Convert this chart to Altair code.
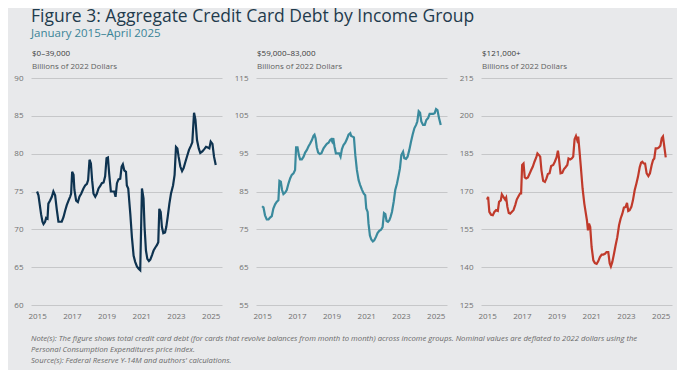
import altair as alt
import pandas as pd

# ---------------- data ----------------
low_t = [2015.00, 2015.08, 2015.17, 2015.23, 2015.31, 2015.37, 2015.46, 2015.52, 2015.60, 2015.65,
         2015.75, 2015.85, 2015.94, 2016.04, 2016.13, 2016.23, 2016.33, 2016.42, 2016.52, 2016.62,
         2016.71, 2016.81, 2016.90, 2016.96, 2017.02, 2017.10, 2017.15, 2017.25, 2017.35, 2017.44,
         2017.54, 2017.67, 2017.77, 2017.87, 2017.94, 2018.02, 2018.10, 2018.17, 2018.25, 2018.35,
         2018.44, 2018.54, 2018.63, 2018.73, 2018.83, 2018.92, 2019.00, 2019.08, 2019.15, 2019.25,
         2019.35, 2019.44, 2019.52, 2019.60, 2019.69, 2019.79, 2019.87, 2019.94, 2020.02, 2020.12,
         2020.17, 2020.25, 2020.37, 2020.46, 2020.56, 2020.65, 2020.75, 2020.85, 2020.94, 2021.04,
         2021.13, 2021.19, 2021.27, 2021.35, 2021.44, 2021.52, 2021.62, 2021.71, 2021.81, 2021.90,
         2021.98, 2022.04, 2022.12, 2022.19, 2022.27, 2022.37, 2022.44, 2022.52, 2022.62, 2022.71,
         2022.83, 2022.92, 2023.00, 2023.08, 2023.15, 2023.25, 2023.35, 2023.44, 2023.54, 2023.63,
         2023.75, 2023.85, 2023.94, 2024.04, 2024.12, 2024.21, 2024.31, 2024.40, 2024.52, 2024.63,
         2024.73, 2024.83, 2024.92, 2025.00, 2025.10, 2025.19, 2025.29]
low_v = [75.0, 74.5, 73.0, 72.0, 71.0, 70.7, 71.0, 71.5, 71.4, 73.4,
         73.8, 74.3, 75.0, 74.5, 72.7, 71.0, 71.0, 71.0, 71.6, 72.5,
         73.2, 73.8, 74.3, 74.7, 77.6, 77.2, 75.2, 73.8, 73.6, 74.3,
         74.7, 75.4, 75.8, 76.0, 76.5, 79.2, 78.7, 76.5, 74.7, 74.3,
         74.7, 75.4, 75.7, 76.1, 76.2, 77.0, 79.4, 79.5, 77.4, 75.0,
         75.0, 75.0, 74.3, 76.1, 76.6, 76.7, 78.3, 78.6, 77.8, 77.6,
         75.8, 75.4, 72.0, 69.0, 66.5, 65.7, 65.1, 64.8, 64.6, 75.4,
         74.1, 70.3, 67.2, 66.1, 65.8, 66.0, 66.6, 67.2, 67.6, 67.9,
         68.3, 72.7, 72.3, 70.3, 69.5, 69.6, 70.3, 71.6, 73.4, 74.7,
         75.8, 77.2, 80.9, 80.7, 79.6, 78.3, 77.7, 78.1, 78.9, 79.6,
         80.5, 81.0, 81.5, 85.4, 84.5, 81.8, 80.7, 80.1, 80.3, 80.6,
         80.9, 80.8, 80.7, 81.6, 81.3, 79.6, 78.5]

mid_t = [2015.00, 2015.08, 2015.17, 2015.27, 2015.37, 2015.46, 2015.56, 2015.65, 2015.75, 2015.85,
         2015.94, 2016.00, 2016.08, 2016.15, 2016.23, 2016.33, 2016.42, 2016.52, 2016.62, 2016.71,
         2016.81, 2016.90, 2016.96, 2017.04, 2017.12, 2017.19, 2017.29, 2017.39, 2017.48, 2017.58,
         2017.67, 2017.77, 2017.87, 2017.96, 2018.02, 2018.08, 2018.15, 2018.23, 2018.33, 2018.42,
         2018.54, 2018.63, 2018.73, 2018.83, 2018.92, 2018.98, 2019.04, 2019.10, 2019.17, 2019.25,
         2019.35, 2019.44, 2019.52, 2019.60, 2019.69, 2019.79, 2019.88, 2019.98, 2020.08, 2020.13,
         2020.21, 2020.29, 2020.37, 2020.46, 2020.56, 2020.65, 2020.75, 2020.85, 2020.94, 2021.00,
         2021.08, 2021.13, 2021.21, 2021.29, 2021.38, 2021.46, 2021.56, 2021.65, 2021.75, 2021.85,
         2021.94, 2022.02, 2022.10, 2022.17, 2022.25, 2022.33, 2022.40, 2022.48, 2022.58, 2022.67,
         2022.77, 2022.87, 2022.94, 2023.02, 2023.12, 2023.19, 2023.29, 2023.38, 2023.48, 2023.58,
         2023.67, 2023.77, 2023.87, 2023.94, 2024.02, 2024.10, 2024.17, 2024.27, 2024.37, 2024.46,
         2024.56, 2024.65, 2024.75, 2024.85, 2024.94, 2025.02, 2025.10, 2025.19, 2025.29]
mid_v = [81.1, 80.8, 78.7, 77.6, 77.6, 78.1, 78.5, 80.5, 81.6, 82.3,
         82.7, 87.8, 87.6, 85.4, 84.3, 84.7, 85.4, 87.1, 88.5, 89.4,
         89.8, 90.7, 96.7, 96.7, 94.6, 93.5, 93.5, 94.2, 95.3, 96.0,
         96.9, 97.7, 98.6, 99.7, 100.0, 99.1, 96.7, 95.3, 94.9, 95.1,
         96.4, 97.0, 97.6, 97.9, 98.6, 98.8, 98.2, 99.1, 96.9, 95.1,
         95.1, 95.1, 94.2, 96.2, 97.3, 97.9, 98.8, 100.0, 100.4, 99.7,
         99.5, 99.3, 94.6, 90.7, 88.0, 86.7, 85.5, 84.5, 84.0, 80.5,
         79.6, 76.5, 73.4, 72.3, 71.8, 72.1, 73.0, 74.0, 74.6, 74.9,
         75.6, 79.3, 79.0, 77.2, 77.0, 77.4, 78.3, 79.6, 82.3, 85.4,
         87.1, 89.4, 91.1, 94.6, 95.5, 93.8, 93.6, 94.2, 96.0, 98.2,
         100.0, 101.7, 102.6, 103.5, 106.2, 105.8, 103.5, 102.6, 102.6, 103.9,
         104.4, 105.5, 105.5, 105.5, 105.7, 106.8, 106.5, 104.4, 102.6]

high_t = [2015.00, 2015.06, 2015.13, 2015.23, 2015.33, 2015.42, 2015.52, 2015.62, 2015.69, 2015.79,
          2015.85, 2015.94, 2016.04, 2016.10, 2016.17, 2016.25, 2016.33, 2016.42, 2016.52, 2016.62,
          2016.71, 2016.81, 2016.90, 2016.96, 2017.02, 2017.10, 2017.17, 2017.25, 2017.35, 2017.44,
          2017.54, 2017.63, 2017.73, 2017.83, 2017.90, 2017.98, 2018.06, 2018.13, 2018.23, 2018.33,
          2018.42, 2018.50, 2018.60, 2018.69, 2018.81, 2018.90, 2019.00, 2019.08, 2019.13, 2019.23,
          2019.33, 2019.42, 2019.52, 2019.62, 2019.69, 2019.79, 2019.88, 2019.96, 2020.04, 2020.12,
          2020.19, 2020.25, 2020.31, 2020.40, 2020.50, 2020.60, 2020.69, 2020.75, 2020.81, 2020.87,
          2020.94, 2021.02, 2021.12, 2021.21, 2021.31, 2021.40, 2021.50, 2021.60, 2021.69, 2021.79,
          2021.88, 2021.98, 2022.06, 2022.13, 2022.21, 2022.31, 2022.40, 2022.50, 2022.60, 2022.69,
          2022.79, 2022.88, 2022.98, 2023.06, 2023.13, 2023.21, 2023.31, 2023.40, 2023.50, 2023.60,
          2023.69, 2023.79, 2023.87, 2023.94, 2024.02, 2024.10, 2024.19, 2024.29, 2024.38, 2024.48,
          2024.56, 2024.63, 2024.71, 2024.81, 2024.90, 2024.98, 2025.06, 2025.13, 2025.29]
high_v = [166.8, 167.9, 161.9, 160.8, 160.6, 161.9, 162.6, 162.3, 165.9, 166.5,
          168.9, 167.9, 166.8, 167.6, 163.9, 161.5, 161.2, 161.9, 162.6, 164.6,
          166.8, 168.1, 169.2, 169.2, 180.5, 181.1, 175.6, 175.2, 175.6, 176.9,
          178.5, 179.8, 181.8, 183.5, 185.1, 184.5, 183.8, 178.5, 174.2, 173.8,
          175.2, 176.9, 177.2, 180.1, 180.5, 181.8, 183.5, 186.2, 183.8, 177.2,
          177.4, 178.8, 179.6, 180.5, 183.1, 182.7, 183.1, 183.8, 190.7, 192.0,
          190.4, 191.8, 187.1, 179.8, 171.2, 165.2, 161.2, 158.6, 154.6, 157.3,
          155.9, 148.0, 142.7, 141.6, 141.3, 142.3, 144.0, 145.0, 145.0, 145.3,
          146.0, 146.0, 141.6, 140.3, 142.0, 145.3, 148.6, 151.9, 156.6, 159.2,
          161.2, 163.6, 163.9, 165.5, 162.3, 162.6, 163.9, 166.5, 170.5, 173.2,
          175.8, 179.6, 181.4, 181.8, 181.1, 181.1, 177.2, 176.1, 177.2, 180.5,
          182.5, 183.1, 187.1, 187.1, 187.5, 188.1, 191.1, 191.8, 183.5]

group_names = ["$0–39,000", "$59,000–83,000", "$121,000+"]
y_domains = [[60, 90], [55, 115], [125, 215]]
y_ticks = [[60, 65, 70, 75, 80, 85, 90],
           [55, 65, 75, 85, 95, 105, 115],
           [125, 140, 155, 170, 185, 200, 215]]
x_ticks = [2015, 2017, 2019, 2021, 2023, 2025]
line_colors = ["#0e3350", "#3a8a9d", "#c03a2b"]

title_text = "Figure 3: Aggregate Credit Card Debt by Income Group"
subtitle_text = "January 2015–April 2025"
unit_text = "Billions of 2022 Dollars"
note_lines = [
    "Note(s): The figure shows total credit card debt (for cards that revolve balances from month to month) across income groups. Nominal values are deflated to 2022 dollars using the",
    "Personal Consumption Expenditures price index.",
    "Source(s): Federal Reserve Y-14M and authors' calculations.",
]

FONT = "Open Sans"
BG = "#e8e9eb"
W, H = 191, 227

series = [(low_t, low_v), (mid_t, mid_v), (high_t, high_v)]


def text_layer(txt, x, y, size, color, style="normal", weight="normal"):
    return alt.Chart(pd.DataFrame({"t": [txt]})).mark_text(
        align="left", baseline="alphabetic", font=FONT, fontSize=size,
        color=color, fontStyle=style, fontWeight=weight
    ).encode(x=alt.value(x), y=alt.value(y), text="t:N")


panels = []
for i, (ts, vs) in enumerate(series):
    df = pd.DataFrame({"year": ts, "value": vs})
    line = alt.Chart(df).mark_line(color=line_colors[i], strokeWidth=2.2).encode(
        x=alt.X("year:Q",
                scale=alt.Scale(domain=[2014.65, 2025.65], nice=False, zero=False),
                axis=alt.Axis(values=x_ticks, format="d", grid=False, domain=False,
                              ticks=False, labelPadding=7, title=None,
                              labelFont=FONT, labelFontSize=8, labelColor="#707070")),
        y=alt.Y("value:Q",
                scale=alt.Scale(domain=y_domains[i], nice=False, zero=False),
                axis=alt.Axis(values=y_ticks[i], grid=True, gridColor="#c6c7c9",
                              gridWidth=1, domain=False, ticks=False, labelPadding=8,
                              title=None, labelFont=FONT, labelFontSize=8,
                              labelColor="#707070")),
    )
    layers = [line,
              text_layer(group_names[i], 1, -22, 8, "#3a3a3a"),
              text_layer(unit_text, 1, -9, 8, "#5f5f5f")]
    if i == 0:
        layers += [
            text_layer(title_text, 0, -56, 17.5, "#1f3b4d"),
            text_layer(subtitle_text, 0, -41, 11.5, "#3a8497"),
            text_layer(note_lines[0], 0, 263, 7.7, "#6a6a6a", style="italic"),
            text_layer(note_lines[1], 0, 274, 7.7, "#6a6a6a", style="italic"),
            text_layer(note_lines[2], 0, 285, 7.7, "#6a6a6a", style="italic"),
        ]
    panels.append(alt.layer(*layers).properties(width=W, height=H))

chart = alt.hconcat(*panels, spacing=34, bounds="flush").properties(
    padding={"left": 5, "top": 0, "right": 5, "bottom": 5}
).configure(background=BG).configure_view(stroke=None)

chart.save("out.html", embed_options={"renderer": "svg", "actions": False})
